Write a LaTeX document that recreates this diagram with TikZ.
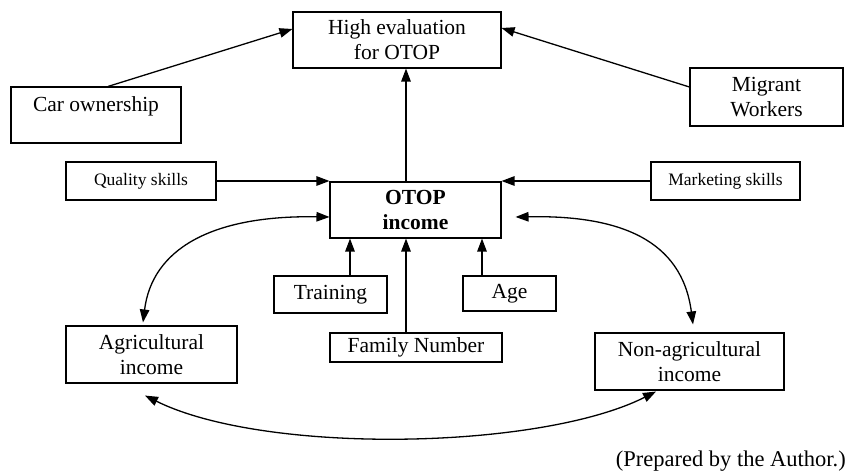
\documentclass[tikz,border=0pt]{standalone}
\usepackage{fontspec}
\setmainfont{Liberation Serif}
\usetikzlibrary{arrows.meta}
\begin{document}
\begin{tikzpicture}[x=1pt,y=-1pt,
  box/.style={draw, line width=1.1pt, inner sep=0pt, align=center, font=\fontsize{21.5}{25}\selectfont},
  smallbox/.style={box, font=\fontsize{17.5}{21}\selectfont},
  arr/.style={line width=1.3pt, -{Triangle[length=13pt,width=9.5pt]}},
  darr/.style={line width=1.3pt, {Triangle[length=13pt,width=9.5pt]}-{Triangle[length=13pt,width=9.5pt]}}]
\useasboundingbox (0,0) rectangle (846,474);
\node[box, minimum width=208, minimum height=56] (high) at (397,40) {High evaluation\\for OTOP};
\node[box, minimum width=170, minimum height=56] (car) at (96,115) {Car ownership\\[-3pt]\mbox{}};
\node[box, minimum width=153, minimum height=58] (mig) at (766.5,97) {Migrant\\Workers};
\node[smallbox, minimum width=150, minimum height=38] (qual) at (141,181) {Quality skills};
\node[smallbox, minimum width=149, minimum height=38] (mkt) at (725.5,181) {Marketing skills};
\node[box, minimum width=171, minimum height=56, font=\fontsize{21.5}{25}\selectfont\bfseries] (otop) at (415.5,210) {OTOP\\income};
\node[box, minimum width=113, minimum height=37] (train) at (330.5,294.5) {Training};
\node[box, minimum width=93, minimum height=35] (age) at (509.5,293.5) {Age};
\node[box, minimum width=171, minimum height=57] (agri) at (151.5,354.5) {Agricultural\\income};
\node[box, minimum width=172, minimum height=29] (fam) at (416,347.5) {Family Number};
\node[box, minimum width=189, minimum height=57] (nonag) at (689.5,361.5) {Non-agricultural\\income};
\node[anchor=east, inner sep=0pt, font=\fontsize{22.5}{26}\selectfont] (note) at (846,461) {(Prepared by the Author.)};

\draw[arr] ([xshift=12pt]car.north) -- ([yshift=11pt]high.west);
\draw[arr] ([yshift=10pt]mig.west) -- ([yshift=12pt]high.east);
\draw[arr] ([xshift=-9.5pt]otop.north) -- ([xshift=-9.5pt]otop.north |- high.south);
\draw[arr] (qual.east) -- (qual.east -| otop.west);
\draw[arr] (mkt.west) -- (mkt.west -| otop.east);
\draw[arr] ([xshift=19.5pt]train.north) -- ([xshift=19.5pt]train.north |- otop.south);
\draw[arr] ([xshift=-27.5pt]age.north) -- ([xshift=-27.5pt]age.north |- otop.south);
\draw[arr] ([xshift=-10pt]fam.north) -- ([xshift=-10pt]fam.north |- otop.south);

\coordinate (lA) at ([yshift=-7pt]otop.west);
\coordinate (lB) at ([xshift=-8.5pt,yshift=3pt]agri.north);
\draw[darr] (lA) .. controls (210,215) and (152,250) .. (lB);
\coordinate (rA) at ([xshift=14pt,yshift=-7pt]otop.east);
\coordinate (rB) at ([xshift=3.5pt,yshift=8pt]nonag.north);
\draw[darr] (rA) .. controls (620,215) and (682,240) .. (rB);
\coordinate (bA) at ([xshift=-6.5pt,yshift=-12pt]agri.south);
\coordinate (bB) at ([xshift=-33.5pt,yshift=-1pt]nonag.south);
\draw[darr] (bA) .. controls (265,455) and (540,450) .. (bB);
\end{tikzpicture}
\end{document}
